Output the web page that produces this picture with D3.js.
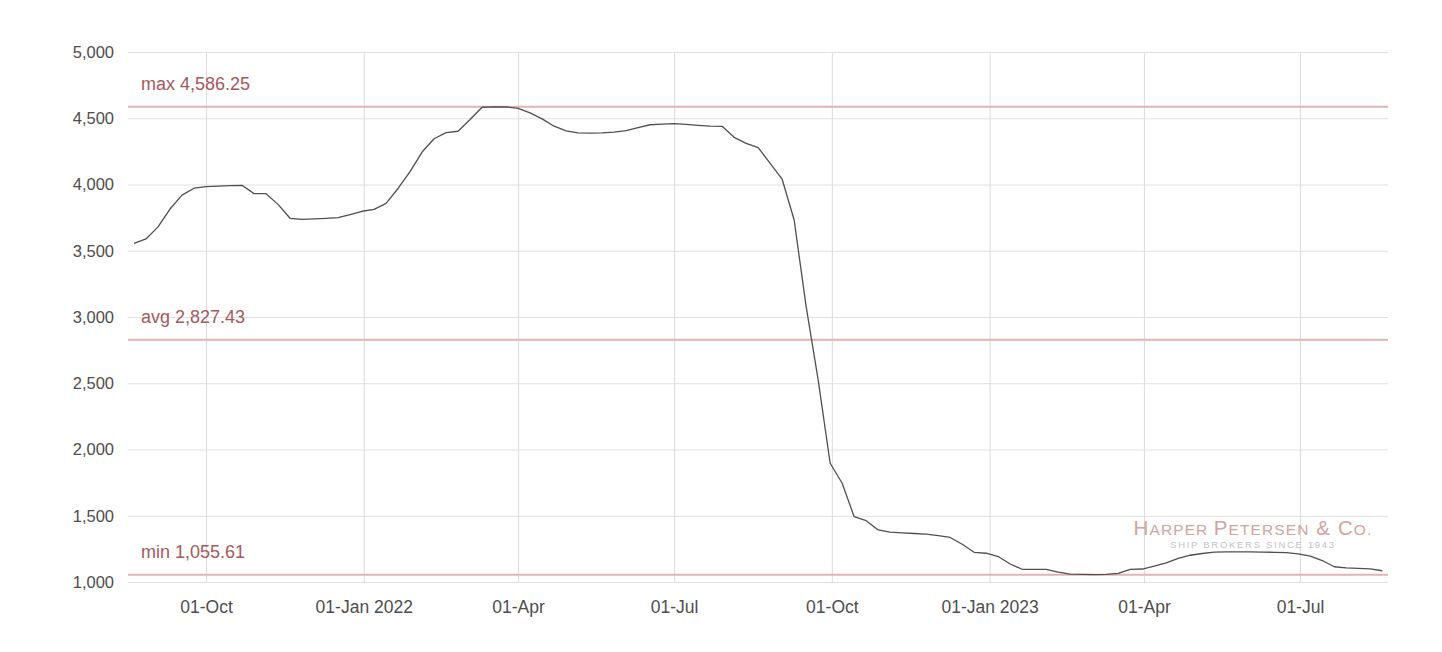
<!DOCTYPE html>
<html>
<head>
<meta charset="utf-8">
<script src="https://cdn.jsdelivr.net/npm/d3@7"></script>
<style>
  html, body { margin: 0; padding: 0; background: #fff; }
  svg { display: block; }
  text { font-family: "Liberation Sans", Arial, sans-serif; }
</style>
</head>
<body>
<svg id="chart" width="1442" height="652"></svg>
<script>
// ---------- data ----------
const startDate = "2021-08-20";           // first weekly observation (Friday)
const values = [
  3556, 3589, 3680, 3815, 3920, 3972, 3984, 3988, 3992, 3994,
  3931, 3931, 3850, 3745, 3737, 3741, 3745, 3750, 3773, 3798,
  3812, 3858, 3970, 4097, 4245, 4345, 4392, 4402, 4490, 4583,
  4586.25, 4585, 4575, 4540, 4495, 4440, 4404, 4389, 4388, 4389,
  4396, 4406, 4430, 4451, 4455, 4459, 4454, 4446, 4440, 4439,
  4356, 4310, 4278, 4160, 4040, 3732, 3078, 2525, 1896, 1745,
  1493, 1463, 1393, 1376, 1371, 1366, 1361, 1350, 1336, 1285,
  1224, 1217, 1192, 1136, 1096, 1096, 1096, 1075, 1060, 1057,
  1055.61, 1058, 1065, 1096, 1098, 1120, 1145, 1178, 1202, 1215,
  1226, 1227, 1227, 1227, 1226, 1224, 1221, 1212, 1196, 1162,
  1115, 1106, 1103, 1099, 1085
];
const statNames  = ["max", "avg", "min"];
const statValues = [4586.25, 2827.43, 1055.61];
const yTicks = [1000, 1500, 2000, 2500, 3000, 3500, 4000, 4500, 5000];
const xTickDates  = ["2021-10-01", "2022-01-01", "2022-04-01", "2022-07-01", "2022-10-01", "2023-01-01", "2023-04-01", "2023-07-01"];
const xTickLabels = ["01-Oct", "01-Jan 2022", "01-Apr", "01-Jul", "01-Oct", "01-Jan 2023", "01-Apr", "01-Jul"];

// ---------- build ----------
(function () {
const parse = d3.utcParse("%Y-%m-%d");
const t0 = parse(startDate);
const series = values.map((v, i) => ({ date: d3.utcDay.offset(t0, 7 * i), value: v }));
const tickDates = xTickDates.map(parse);

const svg = d3.select("#chart");
const pL = 128, pR = 1388, pT = 52, pB = 582;

const x = d3.scaleUtc()
  .domain([new Date(Date.UTC(2021, 7, 16, 12)), new Date(Date.UTC(2023, 7, 21, 8))])
  .range([pL, pR]);
const y = d3.scaleLinear().domain([1000, 5000]).range([pB, pT]);

const fmtNum = d3.format(",");
const fmtStat = d3.format(",.2f");

// gridlines horizontal
const yAxis = d3.axisLeft(y).tickValues(yTicks).tickSize(-(pR - pL)).tickFormat(fmtNum).tickPadding(12);
const gy = svg.append("g").attr("transform", `translate(${pL},0)`).call(yAxis);
gy.select(".domain").remove();
gy.selectAll(".tick line").attr("stroke", "#e1e1e1").attr("stroke-width", 1);
gy.selectAll(".tick text").attr("fill", "#4d4d4d").style("font-size", "16.5px").attr("x", -14);

// gridlines vertical + labels
const xAxis = d3.axisBottom(x).tickValues(tickDates).tickSize(-(pB - pT)).tickPadding(19)
  .tickFormat((d, i) => xTickLabels[i]);
const gx = svg.append("g").attr("transform", `translate(0,${pB})`).call(xAxis);
gx.select(".domain").remove();
gx.selectAll(".tick line").attr("stroke", "#dcdcdc").attr("stroke-width", 1);
gx.selectAll(".tick text").attr("fill", "#4d4d4d").style("font-size", "17.5px");

// stat reference lines
const stats = statNames.map((n, i) => ({ name: n, value: statValues[i] }));
const gs = svg.append("g");
gs.selectAll("line").data(stats).join("line")
  .attr("x1", pL).attr("x2", pR)
  .attr("y1", d => y(d.value)).attr("y2", d => y(d.value))
  .attr("stroke", "#e2b3b5").attr("stroke-width", 2);
gs.selectAll("text").data(stats).join("text")
  .attr("x", pL + 13).attr("y", d => y(d.value) - 17)
  .attr("fill", "#a6585c").style("font-size", "18px")
  .text(d => `${d.name} ${fmtStat(d.value)}`);

// watermark
const wm = svg.append("g").attr("transform", "translate(1253,0)");
const w1 = wm.append("text").attr("x", 0).attr("y", 535).attr("text-anchor", "middle")
  .attr("fill", "#d3a39f").style("letter-spacing", "1.1px");
[["H", 20.5], ["ARPER ", 15.5], ["P", 20.5], ["ETERSEN", 15.5], [" & ", 20.5], ["C", 20.5], ["O.", 15.5]].forEach(([t, s]) => {
  w1.append("tspan").style("font-size", s + "px").text(t);
});
wm.append("text").attr("x", 0).attr("y", 548).attr("text-anchor", "middle")
  .attr("fill", "#c2c2c2").style("font-size", "9.5px").style("letter-spacing", "1.7px")
  .text("SHIP BROKERS SINCE 1943");

// data line
const line = d3.line().x(d => x(d.date)).y(d => y(d.value));
svg.append("path").datum(series)
  .attr("d", line).attr("fill", "none")
  .attr("stroke", "#4f4f4f").attr("stroke-width", 1.3).attr("stroke-linejoin", "round");
})();
</script>
</body>
</html>
